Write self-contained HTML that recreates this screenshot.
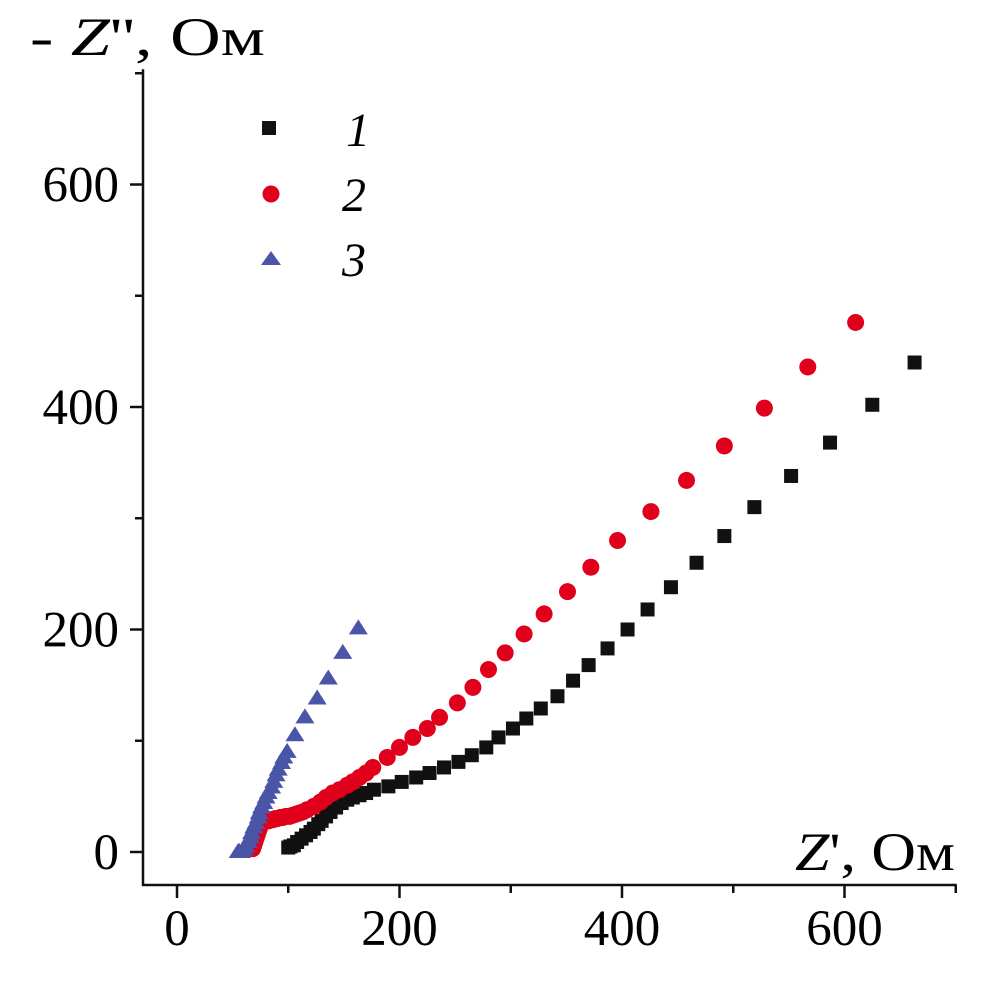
<!DOCTYPE html>
<html><head><meta charset="utf-8"><style>
html,body{margin:0;padding:0;background:#fff;}
svg{display:block;font-family:"Liberation Serif",serif;}
</style></head><body>
<svg id="chart" width="1004" height="988" viewBox="0 0 1004 988" xmlns="http://www.w3.org/2000/svg">
<g id="axes"></g>
<g id="marks"></g>
<g id="legend">
  <rect x="262" y="121" width="14" height="14" fill="#111"/>
  <text x="346" y="146" font-size="48" font-style="italic">1</text>
  <circle cx="271" cy="194" r="8.5" fill="#e0001b"/>
  <text x="342" y="211" font-size="48" font-style="italic">2</text>
  <polygon points="271,251 281,265 261,265" fill="#4a55a8"/>
  <text x="342" y="276" font-size="48" font-style="italic">3</text>
</g>
<text x="30" y="55" font-size="54" textLength="235" lengthAdjust="spacingAndGlyphs">- <tspan font-style="italic">Z</tspan>'', Ом</text>
<text x="795" y="870" font-size="54" textLength="160" lengthAdjust="spacingAndGlyphs"><tspan font-style="italic">Z</tspan>', Ом</text>
</svg>
<script>
const xTickValues=[0,200,400,600];
const yTickValues=[0,200,400,600];
const xTickLabels=["0","200","400","600"];
const yTickLabels=["0","200","400","600"];
const s1x=[663,625,587,552,519,492,467,444,423,405,387,370,356,342,327,314,302,289,278,265,253,240,227,215,202,190,177,170,164,158,153,148,143,138,134,130,127,123,120,116,112,108,105,102,100];
const s1y=[440,402,368,338,310,284,260,238,218,200,183,168,154,140,129,120,111,103,94,87,81,76,71,67,63,59,56,53,51,49,47,44,40,36,32,28,25,21,18,15,12,9,6,5,4];
const s2x=[610,567,528,492,458,426,396,372,351,330,312,295,280,266,252,236,225,212,200,189,176,170,164,158,153,146,140,134,129,123,117,113,110,107,104,101,98,95,93,90,88,86,84,82,80,78,76,75,74,73,72,71,70,69,68];
const s2y=[476,436,399,365,334,306,280,256,234,214,196,179,164,148,134,121,111,103,94,85,76,71,67,63,60,56,53,49,45,41,38,36,35,34,33,32,32,31,31,30,30,29,29,28,28,27,26,24,21,18,15,12,9,6,3];
const s3x=[163,149,136,126,115,106,99,96,94,91,89,87,85,82,80,78,76,74,73,71,69,67,66,64,62,60,58,56,55];
const s3y=[201,179,156,138,121,105,90,85,80,74,69,63,58,53,49,44,40,35,31,26,22,17,13,9,5,2,0,0,0];
const NS="http://www.w3.org/2000/svg";
const X=v=>177+v*1.1125;
const Y=v=>852-v*1.1125;
function mk(tag,attrs,parent){const e=document.createElementNS(NS,tag);for(const k in attrs)e.setAttribute(k,attrs[k]);parent.appendChild(e);return e;}
const axes=document.getElementById('axes');
let a=mk('line',{x1:143,y1:Y(700)-4,x2:143,y2:886,stroke:'#111','stroke-width':2.5},axes);


a=mk('line',{x1:142,y1:885,x2:X(700)+1,y2:885,stroke:'#111','stroke-width':2.5},axes);


for(let v=0;v<=700;v+=100){
  const major=v%200===0;
  let t=mk('line',{x1:X(v),y1:885,x2:X(v),y2:885+(major?13:8),stroke:'#111','stroke-width':2.5},axes);
  
  
  t=mk('line',{x1:143,y1:Y(v),x2:143-(major?13:8),y2:Y(v),stroke:'#111','stroke-width':2.5},axes);
  
  
}
xTickValues.forEach((v,i)=>{const t=mk('text',{x:X(v),y:945,'font-size':51,'text-anchor':'middle'},axes);t.textContent=xTickLabels[i];

});
yTickValues.forEach((v,i)=>{const t=mk('text',{x:119,y:Y(v)+17,'font-size':51,'text-anchor':'end'},axes);t.textContent=yTickLabels[i];

});
const marks=document.getElementById('marks');
s1x.forEach((v,i)=>{const e=mk('rect',{x:X(v)-7,y:Y(s1y[i])-7,width:14,height:14,fill:'#111'},marks);

});
s2x.forEach((v,i)=>{const e=mk('circle',{cx:X(v),cy:Y(s2y[i]),r:8.5,fill:'#e0001b'},marks);

});
s3x.forEach((v,i)=>{const cx=X(v),cy=Y(s3y[i]);const e=mk('polygon',{points:`${cx},${cy-9} ${cx+9.5},${cy+6} ${cx-9.5},${cy+6}`,fill:'#4a55a8'},marks);

});
</script>
</body></html>
